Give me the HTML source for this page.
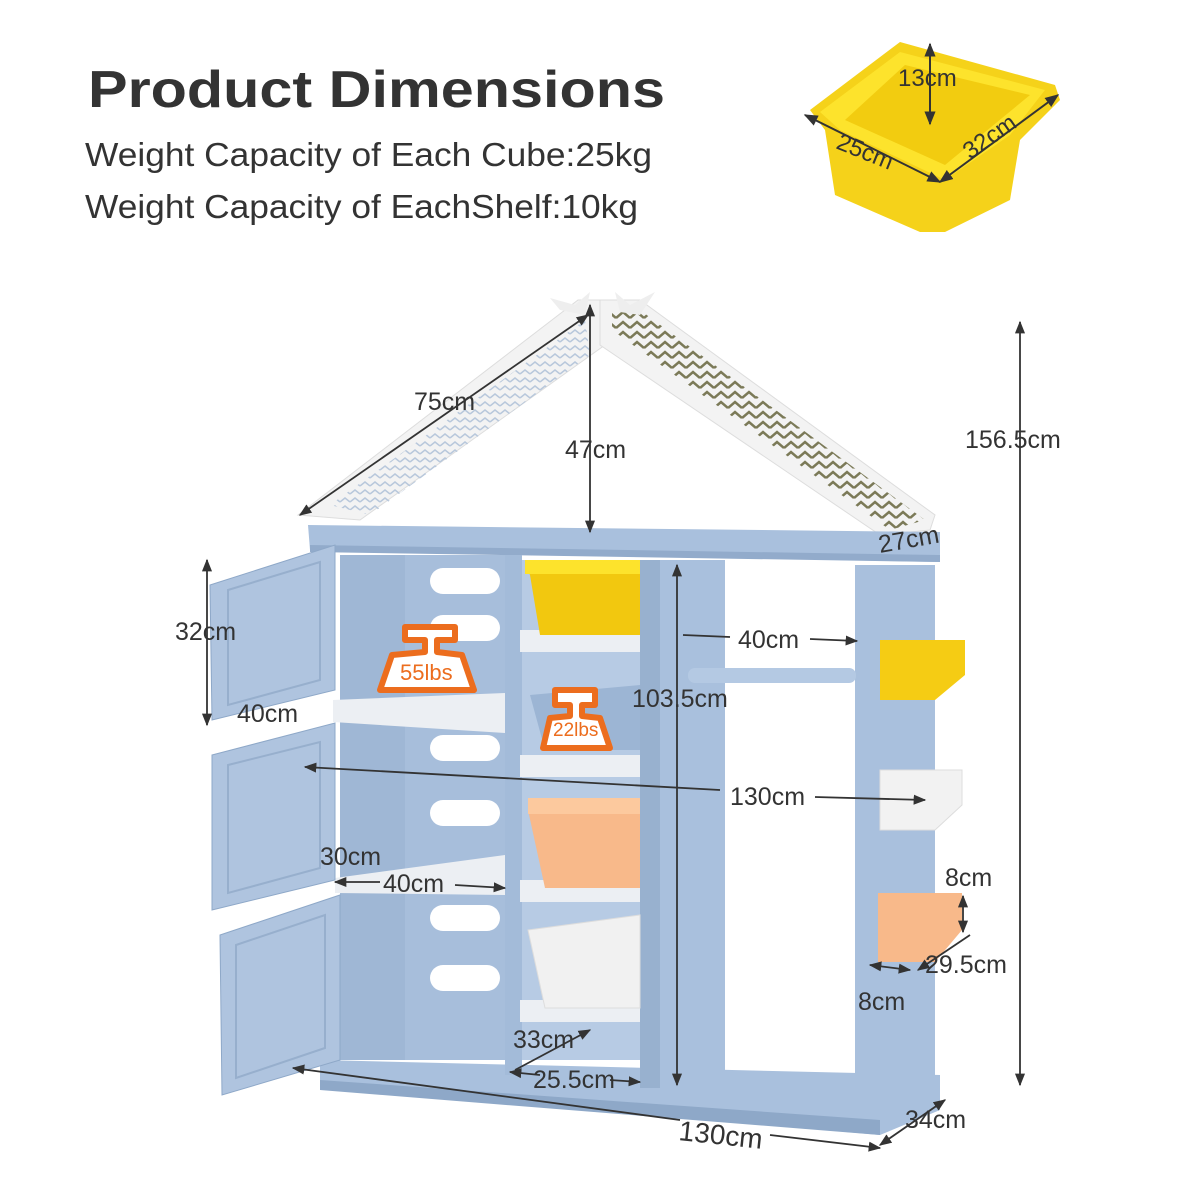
<!DOCTYPE html>
<html><head><meta charset="utf-8"><style>
html,body{margin:0;padding:0;background:#fff}
svg{display:block}
text{font-family:"Liberation Sans",sans-serif;fill:#333}
</style></head><body>
<svg width="1200" height="1200" viewBox="0 0 1200 1200" xmlns="http://www.w3.org/2000/svg">
<defs>
<marker id="a" viewBox="0 0 10 10" refX="9" refY="5" markerWidth="7" markerHeight="7" orient="auto-start-reverse"><path d="M0,1 L10,5 L0,9 z" fill="#333"/></marker>
<pattern id="zz" width="14" height="10" patternUnits="userSpaceOnUse"><path d="M0,8 L7,2 L14,8" stroke="#7b7a58" stroke-width="2.5" fill="none"/></pattern>
<pattern id="zl" width="10" height="8" patternUnits="userSpaceOnUse"><path d="M0,6 L5,2 L10,6" stroke="#b8c8dc" stroke-width="1.5" fill="none"/></pattern>
</defs>

<text x="88" y="107" font-size="52" font-weight="bold" textLength="577" lengthAdjust="spacingAndGlyphs">Product Dimensions</text>
<text x="85" y="166" font-size="33" textLength="567" lengthAdjust="spacingAndGlyphs">Weight Capacity of Each Cube:25kg</text>
<text x="85" y="218" font-size="33" textLength="553" lengthAdjust="spacingAndGlyphs">Weight Capacity of EachShelf:10kg</text>

<!-- yellow bin -->
<polygon points="810,110 900,42 1055,85 1060,100 1020,140 1010,200 945,232 920,232 835,195 825,130" fill="#f5d21a"/>
<polygon points="820,112 900,52 1045,90 1010,135 945,180 840,130" fill="#fde32c"/>
<polygon points="845,120 905,65 1030,95 945,165" fill="#f2cc10"/>
<line x1="930" y1="44" x2="930" y2="124" stroke="#333" stroke-width="2" marker-start="url(#a)" marker-end="url(#a)"/>
<line x1="805" y1="115" x2="940" y2="182" stroke="#333" stroke-width="2" marker-start="url(#a)" marker-end="url(#a)"/>
<line x1="940" y1="182" x2="1058" y2="95" stroke="#333" stroke-width="2" marker-start="url(#a)" marker-end="url(#a)"/>
<text x="898" y="86" font-size="24">13cm</text>
<text x="835" y="148" font-size="24" transform="rotate(22 835 148)">25cm</text>
<text x="970" y="160" font-size="24" transform="rotate(-35 970 160)">32cm</text>

<!-- roof -->
<polygon points="298,515 578,300 612,300 612,340 360,520" fill="#f3f3f3" stroke="#ddd"/>
<polygon points="330,505 585,320 590,355 370,515" fill="url(#zl)"/>
<polygon points="600,300 640,300 935,515 930,530 880,535 600,345" fill="#f3f3f3" stroke="#ddd"/>
<polygon points="612,310 640,310 925,520 890,530 612,330" fill="url(#zz)"/>
<polygon points="550,298 575,305 590,292 585,315 560,310" fill="#eee"/>
<polygon points="615,292 630,305 655,292 640,315 620,312" fill="#eee"/>

<!-- back parts -->
<rect x="340" y="555" width="170" height="505" fill="#a7bedb"/>
<rect x="520" y="560" width="120" height="500" fill="#b7cbe4"/>
<g fill="#fff">
<rect x="430" y="568" width="70" height="26" rx="13"/><rect x="430" y="615" width="70" height="26" rx="13"/>
<rect x="430" y="735" width="70" height="26" rx="13"/><rect x="430" y="800" width="70" height="26" rx="13"/>
<rect x="430" y="905" width="70" height="26" rx="13"/><rect x="430" y="965" width="70" height="26" rx="13"/>
</g>
<rect x="340" y="555" width="65" height="505" fill="#9fb7d5"/>
<!-- base -->
<polygon points="320,1060 940,1075 940,1110 880,1135 320,1085" fill="#a9c0dd"/>
<polygon points="320,1080 880,1120 880,1135 320,1090" fill="#8ea8c8"/>
<!-- top bar -->
<polygon points="308,525 940,532 940,562 310,550" fill="#a9c0dd"/>
<polygon points="310,545 940,555 940,562 310,552" fill="#92abcb"/>
<!-- center col -->
<rect x="505" y="555" width="17" height="520" fill="#a3bbd9"/>
<rect x="640" y="560" width="85" height="528" fill="#a9c0dd"/>
<rect x="640" y="560" width="20" height="528" fill="#98b1cf"/>
<!-- right panel -->
<rect x="855" y="565" width="80" height="540" fill="#a9c0dd"/>
<rect x="688" y="668" width="168" height="15" rx="7" fill="#b4c9e3"/>
<!-- left shelves -->
<polygon points="333,700 505,693 505,733 333,722" fill="#eceff3"/>
<polygon points="335,878 505,855 505,895 335,893" fill="#eceff3"/>
<!-- center shelves -->
<g fill="#eceff3"><rect x="520" y="630" width="120" height="22"/><rect x="520" y="755" width="120" height="22"/><rect x="520" y="880" width="120" height="22"/><rect x="520" y="1000" width="120" height="22"/></g>
<!-- bins -->
<polygon points="525,565 640,560 640,635 540,635 530,575" fill="#f2c80f"/>
<rect x="525" y="560" width="115" height="14" fill="#fde32c"/>
<polygon points="530,695 640,685 640,750 545,750" fill="#9cb5d4"/>
<polygon points="528,810 640,798 640,888 545,888" fill="#f8b98a"/>
<rect x="528" y="798" width="112" height="16" fill="#fcc99e"/>
<polygon points="528,930 640,915 640,1008 545,1008" fill="#f1f1f1" stroke="#ddd"/>
<!-- doors -->
<polygon points="210,585 335,545 335,690 212,720" fill="#afc4df" stroke="#8ea8c8"/>
<polygon points="228,590 320,562 320,680 228,705" fill="none" stroke="#97afcd" stroke-width="2"/>
<polygon points="212,755 335,723 335,880 212,910" fill="#afc4df" stroke="#8ea8c8"/>
<polygon points="228,765 320,742 320,868 228,893" fill="none" stroke="#97afcd" stroke-width="2"/>
<polygon points="220,935 340,895 340,1060 222,1095" fill="#afc4df" stroke="#8ea8c8"/>
<polygon points="236,945 325,915 325,1048 236,1078" fill="none" stroke="#97afcd" stroke-width="2"/>
<!-- side bins -->
<polygon points="880,640 965,640 965,675 935,700 880,700" fill="#f5cc14"/>
<polygon points="880,770 962,770 962,805 935,830 880,830" fill="#f2f2f2" stroke="#ddd"/>
<polygon points="878,893 962,893 962,930 935,962 878,962" fill="#f8b98a"/>
<!-- weights -->
<g fill="#fff" stroke="#ec6d1e" stroke-width="6" stroke-linejoin="round">
<polygon points="380,690 392,655 425,652 425,640 405,640 405,627 455,627 455,640 437,640 437,652 462,655 474,690"/>
<polygon points="543,748 550,718 570,716 570,705 555,705 555,690 595,690 595,705 582,705 582,716 600,718 610,748"/>
</g>
<text x="400" y="680" font-size="22" style="fill:#ec6d1e">55lbs</text>
<text x="553" y="736" font-size="19" style="fill:#ec6d1e">22lbs</text>

<!-- dims -->
<g stroke="#333" stroke-width="1.8" fill="none">
<line x1="590" y1="305" x2="590" y2="532" marker-start="url(#a)" marker-end="url(#a)"/>
<line x1="300" y1="515" x2="588" y2="315" marker-start="url(#a)" marker-end="url(#a)"/>
<line x1="1020" y1="322" x2="1020" y2="1085" marker-start="url(#a)" marker-end="url(#a)"/>
<line x1="207" y1="560" x2="207" y2="725" marker-start="url(#a)" marker-end="url(#a)"/>
<line x1="677" y1="565" x2="677" y2="1085" marker-start="url(#a)" marker-end="url(#a)"/>
<line x1="683" y1="635" x2="730" y2="637"/>
<line x1="810" y1="639" x2="857" y2="641" marker-end="url(#a)"/>
<line x1="305" y1="767" x2="720" y2="790" marker-start="url(#a)"/>
<line x1="815" y1="797" x2="925" y2="800" marker-end="url(#a)"/>
<line x1="335" y1="882" x2="380" y2="882" marker-start="url(#a)"/>
<line x1="455" y1="885" x2="505" y2="888" marker-end="url(#a)"/>
<line x1="293" y1="1068" x2="680" y2="1120" marker-start="url(#a)"/>
<line x1="770" y1="1135" x2="880" y2="1148" marker-end="url(#a)"/>
<line x1="510" y1="1072" x2="540" y2="1075" marker-start="url(#a)"/>
<line x1="610" y1="1080" x2="640" y2="1082" marker-end="url(#a)"/>
<line x1="515" y1="1070" x2="590" y2="1030" marker-end="url(#a)"/>
<line x1="880" y1="1145" x2="945" y2="1100" marker-start="url(#a)" marker-end="url(#a)"/>
<line x1="963" y1="896" x2="963" y2="932" marker-start="url(#a)" marker-end="url(#a)"/>
<line x1="870" y1="965" x2="910" y2="970" marker-start="url(#a)" marker-end="url(#a)"/>
<line x1="918" y1="970" x2="970" y2="935" marker-start="url(#a)"/>
</g>
<g font-size="25">
<text x="414" y="410">75cm</text>
<text x="565" y="458">47cm</text>
<text x="965" y="448">156.5cm</text>
<text x="880" y="553" transform="rotate(-10 880 553)">27cm</text>
<text x="175" y="640">32cm</text>
<text x="738" y="648">40cm</text>
<text x="632" y="707">103.5cm</text>
<text x="237" y="722">40cm</text>
<text x="730" y="805">130cm</text>
<text x="320" y="865">30cm</text>
<text x="383" y="892">40cm</text>
<text x="945" y="886">8cm</text>
<text x="925" y="973">29.5cm</text>
<text x="858" y="1010">8cm</text>
<text x="513" y="1048">33cm</text>
<text x="533" y="1088">25.5cm</text>
<text x="678" y="1140" font-size="28" transform="rotate(6 678 1140)">130cm</text>
<text x="905" y="1128">34cm</text>
</g>
</svg>
</body></html>
